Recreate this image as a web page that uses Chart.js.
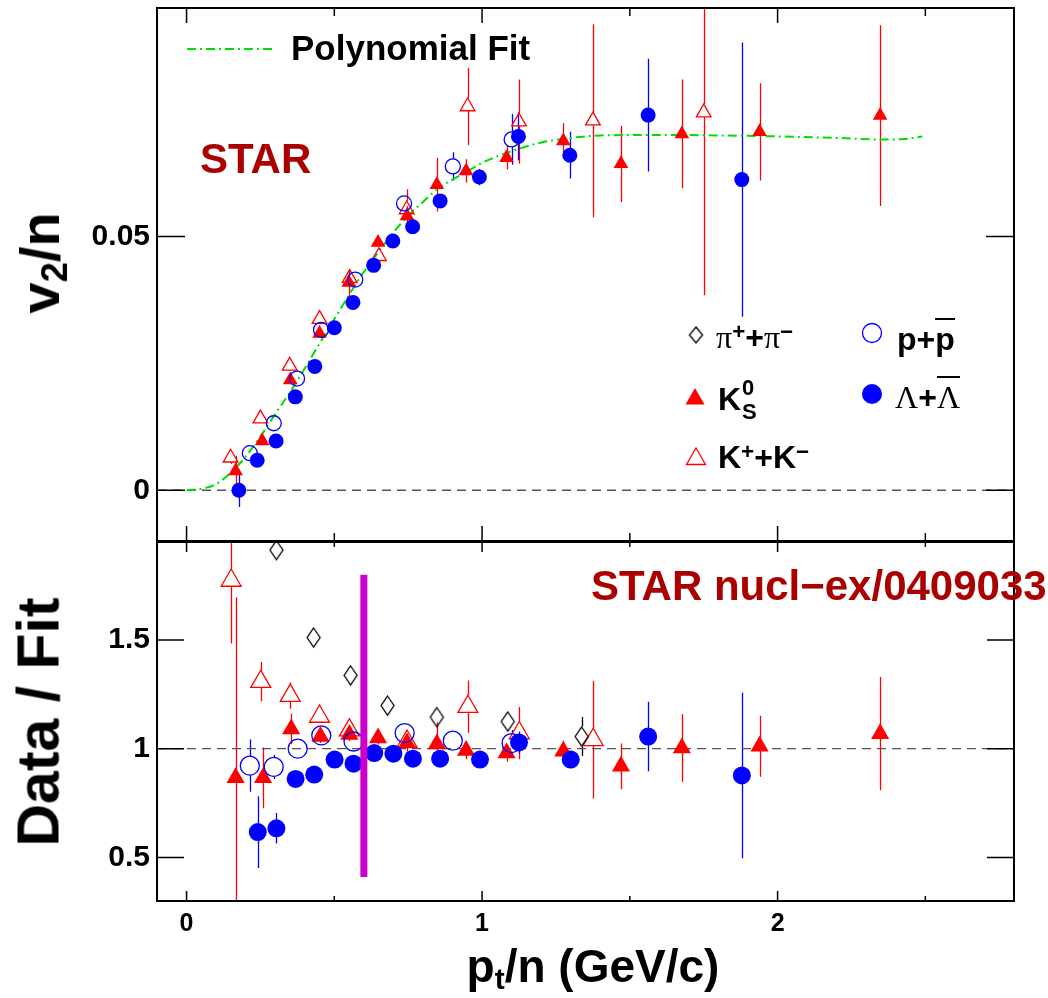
<!DOCTYPE html>
<html lang="en">
<head>
<meta charset="utf-8">
<title>v2/n scaled by number of quarks</title>
<script src="https://cdn.jsdelivr.net/npm/chart.js@4/dist/chart.umd.min.js"></script>
<style>
  html, body { margin: 0; padding: 0; background: #fff; }
  #wrap { position: relative; width: 1048px; height: 998px; overflow: hidden;
          font-family: 'Liberation Sans', Arial, sans-serif; font-weight: bold; }
  canvas { position: absolute; left: 0; }
  #cTop { top: 0; }
  #cBot { top: 530px; }
  .txt { position: absolute; white-space: nowrap; line-height: 1; color: #000; }
  .star { color: #aa0000; font-size: 42px; }
  .leg { font-size: 32px; }
  .greek { font-family: 'Liberation Serif', 'Times New Roman', serif; font-weight: normal; }
  .up { position: relative; top: -0.42em; font-size: 0.7em; }
  .ovl { position: relative; }
  .ovl::before { content: ''; position: absolute; left: 0; right: 0; top: -3px; border-top: 2px solid #000; }
  .ytitle { position: absolute; white-space: nowrap; line-height: 1;
            transform: translate(-50%, -50%) rotate(-90deg); }
  .sub { position: relative; top: 0.22em; font-size: 0.65em; }
</style>
</head>
<body>
<div id="wrap">
  <canvas id="cTop" width="1048" height="545"></canvas>
  <canvas id="cBot" width="1048" height="468"></canvas>

  <div class="txt" style="left:291px; top:30px; font-size:35px;">Polynomial Fit</div>
  <div class="txt star" style="left:200px; top:138px;">STAR</div>
  <div class="txt star" style="left:591px; top:565px;">STAR nucl&minus;ex/0409033</div>

  <div class="txt leg" style="left:716px; top:321px;"><span class="greek">&pi;</span><span class="up">+</span>+<span class="greek">&pi;</span><span class="up">&minus;</span></div>
  <div class="txt leg" style="left:897px; top:323px;">p+<span class="ovl">p</span></div>
  <div class="txt leg" style="left:718px; top:383px;">K<span style="position:relative;display:inline-block;width:22px;height:1px;"><span style="position:absolute;left:1px;top:-32px;font-size:22px;">0</span><span style="position:absolute;left:1px;top:-8px;font-size:22px;">S</span></span></div>
  <div class="txt leg" style="left:895px; top:381px;"><span class="greek">&Lambda;</span>+<span class="greek ovl">&Lambda;</span></div>
  <div class="txt leg" style="left:718px; top:441px;">K<span class="up">+</span>+K<span class="up">&minus;</span></div>

  <div class="ytitle" style="left:40px; top:263px; font-size:56px;">v<span class="sub">2</span>/n</div>
  <div class="ytitle" style="left:39px; top:722px; font-size:59px;">Data / Fit</div>
  <div class="txt" style="left:593px; top:943px; font-size:46px; transform: translateX(-50%);">p<span class="sub">t</span>/n (GeV/c)</div>
</div>

<script>
'use strict';

// ------------------------------------------------------------------
// Werte
// ------------------------------------------------------------------

// Oberes Feld: v2/n gegen pt/n
const k0sX     = [0.166, 0.256, 0.351, 0.450, 0.549, 0.648, 0.746, 0.847, 0.946, 1.083, 1.275, 1.470, 1.676, 1.939, 2.347];
const k0sV2    = [0.0038, 0.0097, 0.0217, 0.0309, 0.0409, 0.0488, 0.0540, 0.0602, 0.0629, 0.0655, 0.0688, 0.0643, 0.0702, 0.0706, 0.0738];
const k0sV2Err = [0.0030, 0.0008, 0.0008, 0.0008, 0.0026, 0.0008, 0.0020, 0.0053, 0.0023, 0.0023, 0.0035, 0.0075, 0.0107, 0.0096, 0.0178];

const kchX     = [0.149, 0.250, 0.349, 0.450, 0.552, 0.651, 0.745, 0.951, 1.125, 1.375, 1.750];
const kchV2    = [0.0064, 0.0141, 0.0245, 0.0337, 0.0418, 0.0461, 0.0553, 0.0756, 0.0726, 0.0728, 0.0744];
const kchV2Err = [0.0012, 0.0008, 0.0008, 0.0010, 0.0012, 0.0015, 0.0040, 0.0076, 0.0083, 0.0190, 0.0360];

const ppX      = [0.214, 0.295, 0.374, 0.455, 0.571, 0.736, 0.901, 1.100];
const ppV2     = [0.0073, 0.0132, 0.0220, 0.0316, 0.0415, 0.0565, 0.0638, 0.0691];
const ppV2Err  = [0.0008, 0.0008, 0.0008, 0.0008, 0.0008, 0.0010, 0.0028, 0.0050];

const lamX     = [0.177, 0.239, 0.303, 0.368, 0.434, 0.500, 0.563, 0.633, 0.698, 0.765, 0.858, 0.991, 1.123, 1.297, 1.562, 1.879];
const lamV2    = [0.0000, 0.0059, 0.0097, 0.0184, 0.0244, 0.0320, 0.0370, 0.0443, 0.0491, 0.0519, 0.0570, 0.0617, 0.0697, 0.0660, 0.0739, 0.0612];
const lamV2Err = [0.0033, 0.0008, 0.0008, 0.0008, 0.0008, 0.0008, 0.0008, 0.0008, 0.0008, 0.0008, 0.0010, 0.0016, 0.0047, 0.0046, 0.0111, 0.0270];

const fitX  = [0.00, 0.05, 0.10, 0.15, 0.20, 0.25, 0.30, 0.35, 0.40, 0.45, 0.50, 0.55, 0.60, 0.65, 0.70, 0.75,
               0.80, 0.85, 0.90, 0.95, 1.00, 1.10, 1.20, 1.30, 1.40, 1.60, 1.80, 2.00, 2.20, 2.35, 2.43, 2.49];
const fitV2 = [0.0000, 0.0003, 0.0012, 0.0035, 0.0066, 0.0106, 0.0150, 0.0193, 0.0240, 0.0289, 0.0337, 0.0385,
               0.0430, 0.0470, 0.0508, 0.0541, 0.0568, 0.0594, 0.0612, 0.0628, 0.0645, 0.0668, 0.0685, 0.0694,
               0.0699, 0.0700, 0.0699, 0.0697, 0.0694, 0.0691, 0.0692, 0.0697];

// Unteres Feld: Data / Fit
const piRX     = [0.304, 0.430, 0.555, 0.680, 0.847, 1.087, 1.337];
const piR      = [1.913, 1.511, 1.337, 1.198, 1.145, 1.125, 1.056];
const piRErr   = [0.01, 0.01, 0.01, 0.01, 0.01, 0.02, 0.09];

const kchRX    = [0.151, 0.251, 0.351, 0.450, 0.551, 0.746, 0.952, 1.126, 1.376];
const kchR     = [1.773, 1.308, 1.244, 1.148, 1.085, 1.033, 1.193, 1.072, 1.041];
const kchRErr  = [0.29, 0.09, 0.06, 0.03, 0.03, 0.03, 0.12, 0.12, 0.27];

const k0sRX    = [0.166, 0.259, 0.354, 0.453, 0.551, 0.648, 0.746, 0.847, 0.946, 1.083, 1.275, 1.470, 1.676, 1.939, 2.347];
const k0sR     = [0.866, 0.866, 1.091, 1.056, 1.065, 1.049, 1.026, 1.022, 0.992, 0.980, 0.988, 0.919, 1.003, 1.011, 1.069];
const k0sRErr  = [0.83, 0.14, 0.07, 0.03, 0.03, 0.03, 0.04, 0.10, 0.04, 0.04, 0.05, 0.105, 0.155, 0.14, 0.26];

const ppRX     = [0.214, 0.295, 0.376, 0.456, 0.565, 0.738, 0.901, 1.100];
const ppR      = [0.922, 0.916, 1.000, 1.061, 1.033, 1.072, 1.037, 1.026];
const ppRErr   = [0.12, 0.055, 0.02, 0.02, 0.02, 0.03, 0.04, 0.06];

const lamRX    = [0.241, 0.304, 0.369, 0.432, 0.501, 0.565, 0.635, 0.700, 0.766, 0.858, 0.993, 1.125, 1.300, 1.562, 1.879];
const lamR     = [0.617, 0.634, 0.861, 0.881, 0.950, 0.931, 0.980, 0.977, 0.954, 0.954, 0.950, 1.029, 0.950, 1.056, 0.877];
const lamRErr  = [0.165, 0.07, 0.02, 0.02, 0.02, 0.02, 0.02, 0.02, 0.02, 0.02, 0.03, 0.05, 0.04, 0.16, 0.38];

// Schnitt-Linie (magenta) und Referenzlinien
const cutX   = [0.6, 0.6];
const cutR   = [0.41, 1.80];
const refX   = [-0.1, 2.8];
const refTop = [0, 0];
const refBot = [1, 1];

// Achsen
const xRange     = [-0.1, 2.8];
const xMajor     = [0, 1, 2];
const xMinor     = [0.5, 1.5, 2.5];
const xLabels    = ['0', '1', '2'];
const yTopRange  = [-0.01, 0.095];
const yTopTicks  = [0, 0.05];
const yTopLabels = ['0', '0.05'];
const yBotRange  = [0.3, 1.95];
const yBotTicks  = [0.5, 1, 1.5];
const yBotLabels = ['0.5', '1', '1.5'];

// ------------------------------------------------------------------
// Stil
// ------------------------------------------------------------------
const RED = '#ff0000', BLUE = '#0000ff', GREEN = '#00dd00', MAGENTA = '#cc00cc';
const FONT = "'Liberation Sans', Arial, sans-serif";

function punkte(xs, ys) {
  return xs.map((x, i) => ({ x, y: ys[i] }));
}

// Raute als Canvas-Marker (hochkant, nicht gefüllt)
function raute(w, h) {
  const c = document.createElement('canvas');
  c.width = w + 4; c.height = h + 4;
  const g = c.getContext('2d');
  g.strokeStyle = '#000'; g.lineWidth = 1.3;
  g.beginPath();
  g.moveTo(c.width / 2, 2);
  g.lineTo(c.width - 2, c.height / 2);
  g.lineTo(c.width / 2, c.height - 2);
  g.lineTo(2, c.height / 2);
  g.closePath();
  g.stroke();
  return c;
}

// Fehlerbalken hinter den Markern, ohne durch offene Marker zu laufen
const fehlerBalken = {
  id: 'fehlerBalken',
  beforeDatasetsDraw(chart) {
    const { ctx, chartArea: a, scales: { x, y } } = chart;
    ctx.save();
    ctx.beginPath();
    ctx.rect(a.left, a.top, a.width, a.height);
    ctx.clip();
    chart.data.datasets.forEach(ds => {
      if (!ds.errors) return;
      ctx.strokeStyle = ds.errColor;
      ctx.lineWidth = 1.3;
      ds.data.forEach((p, i) => {
        const e = ds.errors[i];
        if (!e) return;
        const px = Math.round(x.getPixelForValue(p.x)) + 0.5;
        const py = y.getPixelForValue(p.y);
        const oben = y.getPixelForValue(p.y + e);
        const unten = y.getPixelForValue(p.y - e);
        ctx.beginPath();
        if (py - ds.gapUp > oben) { ctx.moveTo(px, oben); ctx.lineTo(px, py - ds.gapUp); }
        if (py + ds.gapDown < unten) { ctx.moveTo(px, py + ds.gapDown); ctx.lineTo(px, unten); }
        ctx.stroke();
      });
    });
    ctx.restore();
  }
};

// Rahmen und nach innen zeigende Ticks (ROOT-Stil)
const rahmen = {
  id: 'rahmen',
  afterDraw(chart, args, opts) {
    const { ctx, chartArea: a, scales: { x, y } } = chart;
    ctx.save();
    ctx.strokeStyle = '#000';
    ctx.lineWidth = 1.5;
    ctx.beginPath();
    const xt = (v, len) => {
      const px = x.getPixelForValue(v);
      ctx.moveTo(px, a.top); ctx.lineTo(px, a.top + len);
      ctx.moveTo(px, a.bottom); ctx.lineTo(px, a.bottom - len);
    };
    xMajor.forEach(v => xt(v, opts.xMajorLen));
    xMinor.forEach(v => xt(v, opts.xMinorLen));
    opts.yTicks.forEach(v => {
      const py = y.getPixelForValue(v);
      ctx.moveTo(a.left, py); ctx.lineTo(a.left + opts.yLen, py);
      ctx.moveTo(a.right, py); ctx.lineTo(a.right - opts.yLen, py);
    });
    ctx.stroke();
    ctx.lineWidth = 2;
    ctx.strokeRect(a.left, a.top, a.right - a.left, a.bottom - a.top);
    ctx.restore();
  }
};

// Legende im oberen Feld (nur Symbole, Texte sind HTML)
const legendeSymbole = {
  id: 'legendeSymbole',
  afterDraw(chart) {
    const ctx = chart.ctx;
    const draw = Chart.helpers.drawPoint;
    ctx.save();
    // Fit-Linie
    ctx.strokeStyle = GREEN; ctx.lineWidth = 2; ctx.setLineDash([9, 4, 2, 4]);
    ctx.beginPath(); ctx.moveTo(187, 49); ctx.lineTo(275, 49); ctx.stroke();
    ctx.setLineDash([]);
    ctx.drawImage(raute(13, 16), 696 - 8.5, 335 - 10);
    ctx.lineWidth = 1.3;
    ctx.strokeStyle = BLUE; ctx.fillStyle = 'rgba(0,0,0,0)';
    draw(ctx, { pointStyle: 'circle', radius: 9.5, borderWidth: 1.3, rotation: 0 }, 872, 333);
    ctx.fillStyle = BLUE;
    draw(ctx, { pointStyle: 'circle', radius: 10, borderWidth: 0, rotation: 0 }, 872, 394);
    ctx.fillStyle = RED;
    draw(ctx, { pointStyle: 'triangle', radius: 11, borderWidth: 0, rotation: 0 }, 695, 399);
    ctx.strokeStyle = RED; ctx.fillStyle = 'rgba(0,0,0,0)';
    draw(ctx, { pointStyle: 'triangle', radius: 11, borderWidth: 1.3, rotation: 0 }, 696, 459);
    ctx.restore();
  }
};

function scatterSet(opts) {
  return Object.assign({
    type: 'scatter',
    borderWidth: 1.3,
    pointHoverRadius: 0,
    showLine: false
  }, opts);
}

function lineSet(opts) {
  return Object.assign({
    type: 'scatter',
    showLine: true,
    pointRadius: 0,
    pointHoverRadius: 0,
    fill: false
  }, opts);
}

// Achsenbreite fest, Rand-Padding der Beschriftung abschalten
function yAchse(range, ticks, labels, width) {
  return {
    type: 'linear',
    min: range[0],
    max: range[1],
    afterBuildTicks: s => { s.ticks = ticks.map(v => ({ value: v })); },
    afterFit: s => { s.width = width; s.paddingTop = 0; s.paddingBottom = 0; },
    grid: { display: false, drawTicks: false },
    border: { display: false },
    ticks: {
      color: '#000',
      padding: 7,
      font: { family: FONT, size: 30, weight: 'bold' },
      callback: v => labels[ticks.indexOf(v)] ?? ''
    }
  };
}

// ------------------------------------------------------------------
// Oberes Feld
// ------------------------------------------------------------------
new Chart(document.getElementById('cTop'), {
  type: 'scatter',
  data: {
    datasets: [
      lineSet({ data: punkte(refX, refTop), borderColor: '#555', borderWidth: 1.3, borderDash: [9, 6], order: 9 }),
      lineSet({ data: punkte(fitX, fitV2), borderColor: GREEN, borderWidth: 2, borderDash: [9, 4, 2, 4],
                cubicInterpolationMode: 'monotone', order: 8 }),
      scatterSet({ label: 'K+K-', data: punkte(kchX, kchV2), pointStyle: 'triangle', pointRadius: 8.5,
                   backgroundColor: 'rgba(0,0,0,0)', borderColor: RED,
                   errors: kchV2Err, errColor: RED, gapUp: 8.5, gapDown: 4.5, order: 5 }),
      scatterSet({ label: 'K0S', data: punkte(k0sX, k0sV2), pointStyle: 'triangle', pointRadius: 8.5,
                   backgroundColor: RED, borderColor: RED, borderWidth: 0,
                   errors: k0sV2Err, errColor: RED, gapUp: 0, gapDown: 0, order: 4 }),
      scatterSet({ label: 'p+pbar', data: punkte(ppX, ppV2), pointStyle: 'circle', pointRadius: 7.5,
                   backgroundColor: 'rgba(0,0,0,0)', borderColor: BLUE,
                   errors: ppV2Err, errColor: BLUE, gapUp: 7.5, gapDown: 7.5, order: 3 }),
      scatterSet({ label: 'Lambda', data: punkte(lamX, lamV2), pointStyle: 'circle', pointRadius: 7.5,
                   backgroundColor: BLUE, borderColor: BLUE, borderWidth: 0,
                   errors: lamV2Err, errColor: BLUE, gapUp: 0, gapDown: 0, order: 2 })
    ]
  },
  options: {
    responsive: false,
    animation: false,
    devicePixelRatio: 1,
    events: [],
    layout: { autoPadding: false, padding: { top: 8, right: 34, bottom: 4, left: 0 } },
    scales: {
      x: { type: 'linear', min: xRange[0], max: xRange[1], display: false },
      y: yAchse(yTopRange, yTopTicks, yTopLabels, 157)
    },
    plugins: {
      legend: { display: false },
      tooltip: { enabled: false },
      rahmen: { xMajorLen: 15, xMinorLen: 8, yTicks: yTopTicks, yLen: 28 }
    }
  },
  plugins: [fehlerBalken, rahmen, legendeSymbole]
});

// ------------------------------------------------------------------
// Unteres Feld
// ------------------------------------------------------------------
new Chart(document.getElementById('cBot'), {
  type: 'scatter',
  data: {
    datasets: [
      lineSet({ data: punkte(refX, refBot), borderColor: '#555', borderWidth: 1.3, borderDash: [9, 6], order: 9 }),
      lineSet({ data: punkte(cutX, cutR), borderColor: MAGENTA, borderWidth: 7, order: 0 }),
      scatterSet({ label: 'K+K-', data: punkte(kchRX, kchR), pointStyle: 'triangle', pointRadius: 11.5,
                   backgroundColor: 'rgba(0,0,0,0)', borderColor: RED,
                   errors: kchRErr, errColor: RED, gapUp: 11.5, gapDown: 6, order: 6 }),
      scatterSet({ label: 'K0S', data: punkte(k0sRX, k0sR), pointStyle: 'triangle', pointRadius: 10.5,
                   backgroundColor: RED, borderColor: RED, borderWidth: 0,
                   errors: k0sRErr, errColor: RED, gapUp: 0, gapDown: 0, order: 5 }),
      scatterSet({ label: 'p+pbar', data: punkte(ppRX, ppR), pointStyle: 'circle', pointRadius: 9.5,
                   backgroundColor: 'rgba(0,0,0,0)', borderColor: BLUE,
                   errors: ppRErr, errColor: BLUE, gapUp: 9.5, gapDown: 9.5, order: 4 }),
      scatterSet({ label: 'Lambda', data: punkte(lamRX, lamR), pointStyle: 'circle', pointRadius: 9,
                   backgroundColor: BLUE, borderColor: BLUE, borderWidth: 0,
                   errors: lamRErr, errColor: BLUE, gapUp: 0, gapDown: 0, order: 3 }),
      scatterSet({ label: 'pi', data: punkte(piRX, piR), pointStyle: raute(13, 19),
                   errors: piRErr, errColor: '#000', gapUp: 10, gapDown: 10, order: 2 })
    ]
  },
  options: {
    responsive: false,
    animation: false,
    devicePixelRatio: 1,
    events: [],
    layout: { autoPadding: false, padding: { top: 12, right: 34, bottom: 0, left: 0 } },
    scales: {
      x: {
        type: 'linear',
        min: xRange[0],
        max: xRange[1],
        afterBuildTicks: s => { s.ticks = xMajor.map(v => ({ value: v })); },
        afterFit: s => { s.height = 97; s.paddingLeft = 0; s.paddingRight = 0; },
        grid: { display: false, drawTicks: false },
        border: { display: false },
        ticks: {
          color: '#000',
          padding: 8,
          maxRotation: 0,
          font: { family: FONT, size: 25, weight: 'bold' },
          callback: v => xLabels[xMajor.indexOf(v)] ?? ''
        }
      },
      y: yAchse(yBotRange, yBotTicks, yBotLabels, 157)
    },
    plugins: {
      legend: { display: false },
      tooltip: { enabled: false },
      rahmen: { xMajorLen: 10, xMinorLen: 5, yTicks: yBotTicks, yLen: 27 }
    }
  },
  plugins: [fehlerBalken, rahmen]
});
</script>
</body>
</html>
